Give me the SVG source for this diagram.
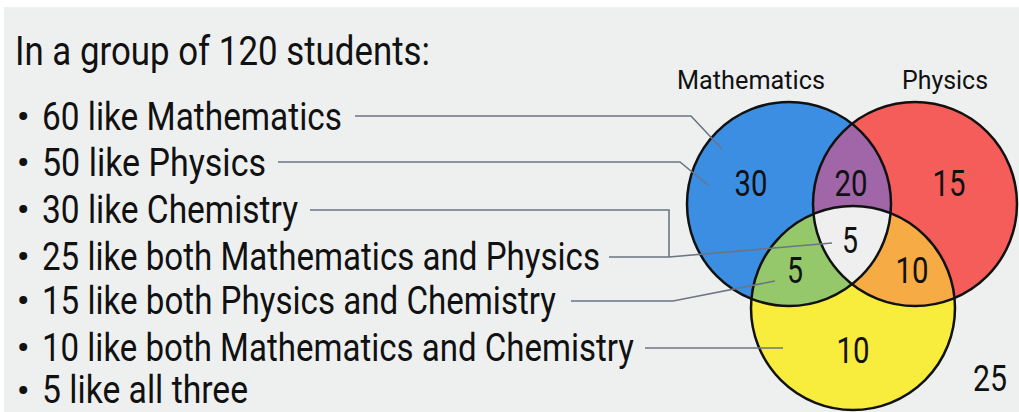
<svg xmlns="http://www.w3.org/2000/svg" width="1019" height="412" viewBox="0 0 1019 412">
<style>
.t{font-family:Roboto,"Liberation Sans",sans-serif;fill:#111;}
.b{font-size:39px;}
.d{font-size:34px;font-weight:bold;}
.n{font-size:36px;text-anchor:middle;}
.h{font-size:26px;text-anchor:middle;}
.c{stroke:#111;stroke-width:2.5;fill:none;}
.k{fill:none;stroke:#6b7682;stroke-width:1.6;}
</style>
<defs>
<clipPath id="cB"><circle cx="789" cy="204" r="102"/></clipPath>
<clipPath id="cR"><circle cx="915" cy="204" r="102"/></clipPath>
</defs>
<rect x="0" y="0" width="1019" height="412" fill="#ffffff"/>
<rect x="4" y="7" width="1015" height="405" fill="#eef0f0"/>
<g id="text">
<text class="t" x="15" y="65" font-size="41" textLength="415" lengthAdjust="spacingAndGlyphs">In a group of 120 students:</text>
<text class="t d" x="17" y="128">•</text>
<text class="t b" x="42" y="130" textLength="300" lengthAdjust="spacingAndGlyphs">60 like Mathematics</text>
<text class="t d" x="17" y="174">•</text>
<text class="t b" x="42" y="176" textLength="224" lengthAdjust="spacingAndGlyphs">50 like Physics</text>
<text class="t d" x="17" y="221">•</text>
<text class="t b" x="42" y="223" textLength="256" lengthAdjust="spacingAndGlyphs">30 like Chemistry</text>
<text class="t d" x="17" y="268">•</text>
<text class="t b" x="42" y="270" textLength="558" lengthAdjust="spacingAndGlyphs">25 like both Mathematics and Physics</text>
<text class="t d" x="17" y="312">•</text>
<text class="t b" x="42" y="314" textLength="514" lengthAdjust="spacingAndGlyphs">15 like both Physics and Chemistry</text>
<text class="t d" x="17" y="359">•</text>
<text class="t b" x="42" y="361" textLength="592" lengthAdjust="spacingAndGlyphs">10 like both Mathematics and Chemistry</text>
<text class="t d" x="17" y="402">•</text>
<text class="t b" x="42" y="403" textLength="206" lengthAdjust="spacingAndGlyphs">5 like all three</text>
</g>
<g id="venn">
<g id="mathematics"><circle cx="789" cy="204" r="102" fill="#3b8ee2"/></g>
<g id="physics"><circle cx="915" cy="204" r="102" fill="#f45d5a"/></g>
<g id="chemistry"><circle cx="853" cy="308" r="102" fill="#f8ec3c"/></g>
<g id="math-physics"><circle cx="915" cy="204" r="102" fill="#a066a8" clip-path="url(#cB)"/></g>
<g id="math-chemistry"><circle cx="853" cy="308" r="102" fill="#94c86a" clip-path="url(#cB)"/></g>
<g id="physics-chemistry"><circle cx="853" cy="308" r="102" fill="#f6ab45" clip-path="url(#cR)"/></g>
<g id="all-three"><g clip-path="url(#cB)"><circle cx="853" cy="308" r="102" fill="#efefef" clip-path="url(#cR)"/></g></g>
<circle class="c" cx="789" cy="204" r="102"/>
<circle class="c" cx="915" cy="204" r="102"/>
<circle class="c" cx="853" cy="308" r="102"/>
</g>
<g id="connectors">
<polyline class="k" points="355,116 691,116 722,149"/>
<polyline class="k" points="278,162 680,162 708,185"/>
<polyline class="k" points="310,210 669,210 669,257"/>
<polyline class="k" points="609,257 669,257 832,243"/>
<polyline class="k" points="571,301 673,301 775,281"/>
<polyline class="k" points="645,348 783,348"/>
</g>
<g id="labels">
<text class="t h" x="751" y="89" textLength="148" lengthAdjust="spacingAndGlyphs">Mathematics</text>
<text class="t h" x="945" y="89" textLength="86" lengthAdjust="spacingAndGlyphs">Physics</text>
<text class="t n" x="751" y="196" textLength="33" lengthAdjust="spacingAndGlyphs">30</text>
<text class="t n" x="851" y="196" textLength="33" lengthAdjust="spacingAndGlyphs">20</text>
<text class="t n" x="949" y="196" textLength="33" lengthAdjust="spacingAndGlyphs">15</text>
<text class="t n" x="850" y="253" textLength="16" lengthAdjust="spacingAndGlyphs">5</text>
<text class="t n" x="795" y="283" textLength="16" lengthAdjust="spacingAndGlyphs">5</text>
<text class="t n" x="912" y="283" textLength="33" lengthAdjust="spacingAndGlyphs">10</text>
<text class="t n" x="853" y="363" textLength="33" lengthAdjust="spacingAndGlyphs">10</text>
<text class="t n" x="990" y="391" textLength="34" lengthAdjust="spacingAndGlyphs">25</text>
</g>
</svg>
